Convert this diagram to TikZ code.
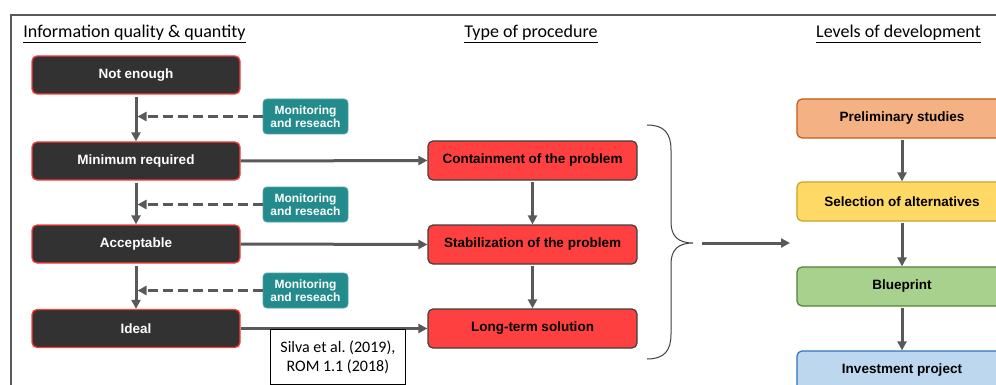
\documentclass[tikz,border=0pt]{standalone}
\usepackage{fontspec}
\setmainfont{Carlito}
\newfontfamily\arialfont{Liberation Sans}
\usetikzlibrary{arrows.meta}

\definecolor{framegray}{HTML}{595959}
\definecolor{darkfill}{HTML}{323232}
\definecolor{redline}{HTML}{FF3C3C}
\definecolor{procred}{HTML}{FF4040}
\definecolor{procline}{HTML}{3F3F3F}
\definecolor{teal}{HTML}{238B8C}
\definecolor{prelimfill}{HTML}{F4B183}
\definecolor{prelimline}{HTML}{C55A11}
\definecolor{selfill}{HTML}{FFD966}
\definecolor{selline}{HTML}{C9A227}
\definecolor{bluefill}{HTML}{A9D18E}
\definecolor{blueline}{HTML}{548235}
\definecolor{invfill}{HTML}{BDD7EE}
\definecolor{invline}{HTML}{2E75B6}

\tikzset{
  boxtext/.style={font=\arialfont\bfseries\fontsize{13.5}{15}\selectfont, align=center},
  infobox/.style={boxtext, rounded corners=5pt, fill=darkfill, draw=redline,
    line width=1.3pt, text=white, minimum width=208pt, minimum height=38pt},
  procbox/.style={boxtext, rounded corners=5pt, fill=procred, draw=procline,
    line width=1.2pt, text=black, minimum width=209pt, minimum height=39pt},
  monbox/.style={font=\arialfont\bfseries\fontsize{12}{12.5}\selectfont, align=center,
    rounded corners=4pt, fill=teal, draw=teal!80!white, line width=0.8pt,
    text=white, minimum width=85pt, minimum height=35pt, inner sep=0.5pt},
  levelbox/.style={boxtext, rounded corners=5pt, line width=1.2pt, text=black,
    minimum width=210pt, minimum height=39pt},
  title/.style={font=\fontsize{18}{21}\selectfont, anchor=center},
  flow/.style={draw=framegray, line width=3pt, -{Triangle[length=9pt,width=9pt]}},
  feedback/.style={draw=framegray, line width=3pt, dash pattern=on 10pt off 5pt,
    -{Triangle[length=9pt,width=9pt]}},
  bracket/.style={draw=procline, line width=1pt},
  refbox/.style={draw=black, line width=0.8pt, fill=white, font=\fontsize{16}{19}\selectfont,
    align=center, minimum width=135pt, minimum height=55pt, inner sep=2pt}
}

\begin{document}
\begin{tikzpicture}[x=1pt,y=-1pt]
\useasboundingbox (0,0) rectangle (996,385);
\begin{scope}
\clip (0,0) rectangle (996,385);

% outer frame
\draw[framegray, line width=2pt] (11,420) -- (11,15) -- (1020,15);

% column titles
\node[title] (t1) at (134.5,34) {\underline{Information quality \& quantity}};
\node[title] (t2) at (531,34) {\underline{Type of procedure}};
\node[title] (t3) at (898.5,34) {\underline{Levels of development}};

% information levels
\node[infobox] (ne)  at (136,75)    {Not enough};
\node[infobox] (min) at (136,161)   {Minimum required};
\node[infobox] (acc) at (136,244)   {Acceptable};
\node[infobox] (ide) at (136,328.5) {Ideal};

% monitoring boxes
\node[monbox] (m1) at (305.5,116.5) {Monitoring\\and reseach};
\node[monbox] (m2) at (305.5,204.5) {Monitoring\\and reseach};
\node[monbox] (m3) at (305.5,290.5) {Monitoring\\and reseach};

% procedures
\node[procbox] (con)  at (532.5,160.5) {Containment of the problem};
\node[procbox] (sta)  at (532.5,244.5) {Stabilization of the problem};
\node[procbox] (lon)  at (532.5,328.5) {Long-term solution};

% levels of development
\node[levelbox, fill=prelimfill, draw=prelimline] (pre) at (902,118.5) {Preliminary studies};
\node[levelbox, fill=selfill, draw=selline]       (sel) at (902,201.5) {Selection of alternatives};
\node[levelbox, fill=bluefill, draw=blueline]     (blu) at (902,286.5) {Blueprint};
\node[levelbox, fill=invfill, draw=invline]       (inv) at (902,370.5) {Investment project};

% vertical flow of information levels
\draw[flow, shorten <=2pt] (ne.south)  -- (min.north);
\draw[flow, shorten <=2pt] (min.south) -- (acc.north);
\draw[flow, shorten <=2pt] (acc.south) -- (ide.north);

% feedback from monitoring
\draw[feedback, shorten >=1.5pt] (m1.west) -- (m1.west -| ne.south);
\draw[feedback, shorten >=1.5pt] (m2.west) -- (m2.west -| ne.south);
\draw[feedback, shorten >=1.5pt] (m3.west) -- (m3.west -| ne.south);

% information level to procedure
\draw[flow] (min.east) -- (con.west);
\draw[flow] (acc.east) -- (sta.west);
\draw[flow] (ide.east) -- (lon.west);

% procedure sequence
\draw[flow, shorten <=1pt] (con.south) -- (sta.north);
\draw[flow, shorten <=1pt] (sta.south) -- (lon.north);

% references
\node[refbox, anchor=north west] (ref) at (270,329) {Silva et al.\ (2019),\\ROM 1.1 (2018)};

% brace grouping the procedures
\coordinate (btop) at (647,125);
\coordinate (btip) at (693,243);
\coordinate (bbot) at (647,359);
\draw[bracket] (btop) .. controls (664,125) and (671,133) .. (671,150)
  -- (671,222) .. controls (671,236) and (678,243) .. (btip)
  .. controls (678,243) and (671,250) .. (671,264)
  -- (671,334) .. controls (671,351) and (664,359) .. (bbot);

% brace to levels of development
\coordinate (bstart) at (702,243);
\coordinate (bend) at (790,243);
\draw[flow] (bstart) -- (bend);

% levels sequence
\draw[flow, shorten <=1pt] (pre.south) -- (sel.north);
\draw[flow, shorten <=1pt] (sel.south) -- (blu.north);
\draw[flow, shorten <=1pt] (blu.south) -- (inv.north);
\end{scope}
\end{tikzpicture}
\end{document}
